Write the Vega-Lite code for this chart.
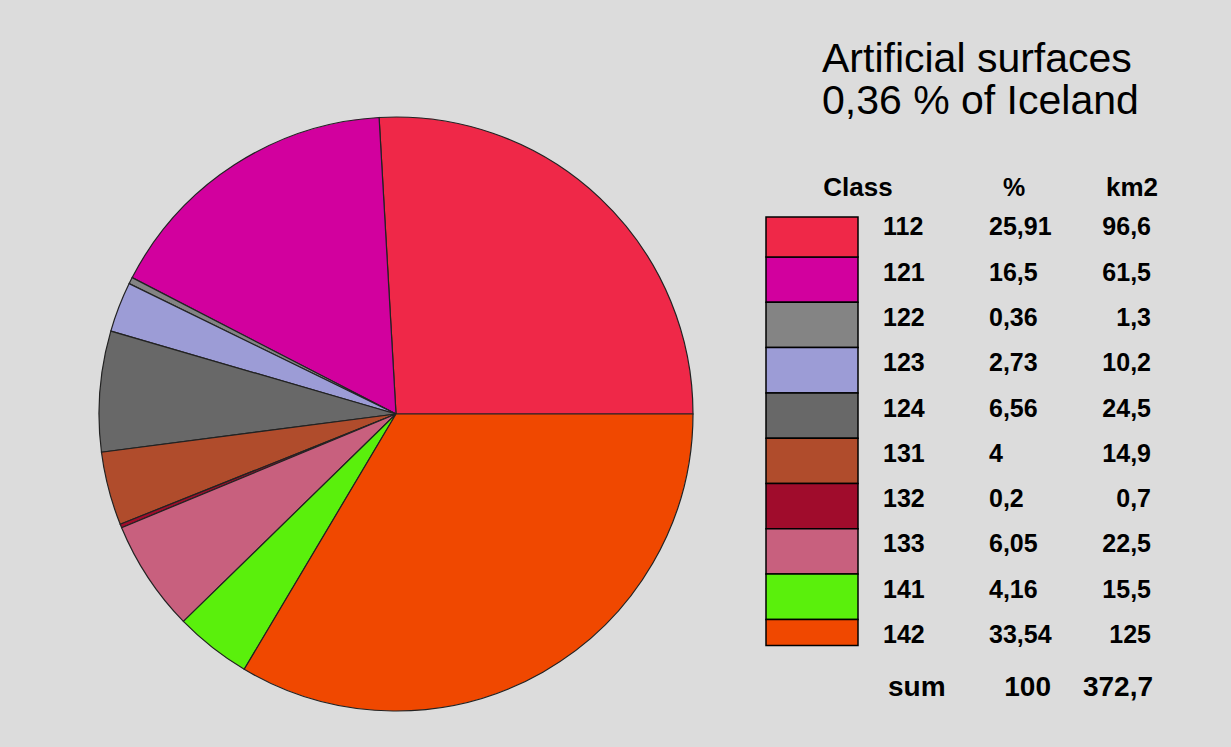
{
  "$schema": "https://vega.github.io/schema/vega-lite/v6.json",
  "background": "#dcdcdc",
  "padding": {"left": 96, "top": 39, "right": 81, "bottom": 41},
  "bounds": "flush",
  "spacing": 73,
  "config": {"view": {"stroke": null}, "font": "Liberation Sans"},
  "datasets": {
    "classes": [
      {"class": "112", "pct": 25.91, "pctText": "25,91", "km2": 96.6, "km2Text": "96,6"},
      {"class": "121", "pct": 16.5, "pctText": "16,5", "km2": 61.5, "km2Text": "61,5"},
      {"class": "122", "pct": 0.36, "pctText": "0,36", "km2": 1.3, "km2Text": "1,3"},
      {"class": "123", "pct": 2.73, "pctText": "2,73", "km2": 10.2, "km2Text": "10,2"},
      {"class": "124", "pct": 6.56, "pctText": "6,56", "km2": 24.5, "km2Text": "24,5"},
      {"class": "131", "pct": 4, "pctText": "4", "km2": 14.9, "km2Text": "14,9"},
      {"class": "132", "pct": 0.2, "pctText": "0,2", "km2": 0.7, "km2Text": "0,7"},
      {"class": "133", "pct": 6.05, "pctText": "6,05", "km2": 22.5, "km2Text": "22,5"},
      {"class": "141", "pct": 4.16, "pctText": "4,16", "km2": 15.5, "km2Text": "15,5"},
      {"class": "142", "pct": 33.54, "pctText": "33,54", "km2": 125, "km2Text": "125"}
    ]
  },
  "hconcat": [
    {
      "width": 594,
      "height": 594,
      "data": {"name": "classes"},
      "mark": {"type": "arc", "outerRadius": 297, "stroke": "#222222", "strokeWidth": 1.2},
      "encoding": {
        "theta": {"field": "pct", "type": "quantitative", "stack": true, "scale": {"range": [1.5708, 7.854]}},
        "order": {"field": "class", "type": "ordinal", "sort": "descending"},
        "color": {
          "field": "class", "type": "nominal", "legend": null,
          "scale": {
            "domain": ["112", "121", "122", "123", "124", "131", "132", "133", "141", "142"],
            "range": ["#ef2848", "#d2009e", "#848484", "#9c9cd6", "#686868", "#b04c2c", "#a00c2c", "#c8607e", "#5af00c", "#f04800"]
          }
        }
      }
    },
    {
      "width": 368,
      "height": 594,
      "title": {
        "text": ["Artificial surfaces", "0,36 % of Iceland"],
        "anchor": "start", "frame": "group", "dx": 56, "offset": -6,
        "fontSize": 41, "fontWeight": "normal", "font": "Liberation Sans", "color": "#000000", "lineHeight": 42
      },
      "data": {"name": "classes"},
      "encoding": {
        "y": {
          "field": "class", "type": "nominal", "axis": null,
          "scale": {"type": "band", "domain": ["header", "112", "121", "122", "123", "124", "131", "132", "133", "141", "142", "sum"], "paddingInner": 0, "paddingOuter": 0.556, "align": 0.98}
        }
      },
      "layer": [
        {
          "transform": [{"filter": "datum.class != '112' && datum.class != '142'"}],
          "mark": {"type": "rect", "stroke": "#000000", "strokeWidth": 1.5},
          "encoding": {
            "x": {"datum": "sw", "type": "nominal", "axis": null, "scale": {"type": "band", "domain": ["sw", "class", "pct", "km2"], "paddingInner": 0, "paddingOuter": 0}},
            "color": {"field": "class", "type": "nominal", "legend": null,
              "scale": {
                "domain": ["112", "121", "122", "123", "124", "131", "132", "133", "141", "142"],
                "range": ["#ef2848", "#d2009e", "#848484", "#9c9cd6", "#686868", "#b04c2c", "#a00c2c", "#c8607e", "#5af00c", "#f04800"]
              }}
          }
        },
        {
          "transform": [{"filter": "datum.class == '112'"}],
          "mark": {"type": "rect", "stroke": "#000000", "strokeWidth": 1.5},
          "encoding": {
            "x": {"datum": "sw", "type": "nominal"},
            "y": {"field": "class", "type": "nominal", "bandPosition": 0.117},
            "y2": {"field": "class", "bandPosition": 1},
            "color": {"field": "class", "type": "nominal", "legend": null}
          }
        },
        {
          "transform": [{"filter": "datum.class == '142'"}],
          "mark": {"type": "rect", "stroke": "#000000", "strokeWidth": 1.5},
          "encoding": {
            "x": {"datum": "sw", "type": "nominal"},
            "y": {"field": "class", "type": "nominal", "bandPosition": 0},
            "y2": {"field": "class", "bandPosition": 0.574},
            "color": {"field": "class", "type": "nominal", "legend": null}
          }
        },
        {
          "mark": {"type": "text", "align": "left", "baseline": "middle", "dx": 25, "dy": -7, "fontSize": 25, "fontWeight": "bold", "color": "#000000"},
          "encoding": {
            "x": {"datum": "class", "type": "nominal", "bandPosition": 0},
            "text": {"field": "class"}
          }
        },
        {
          "mark": {"type": "text", "align": "left", "baseline": "middle", "dx": 39, "dy": -7, "fontSize": 25, "fontWeight": "bold", "color": "#000000"},
          "encoding": {
            "x": {"datum": "pct", "type": "nominal", "bandPosition": 0},
            "text": {"field": "pctText"}
          }
        },
        {
          "mark": {"type": "text", "align": "right", "baseline": "middle", "dx": 17, "dy": -7, "fontSize": 25, "fontWeight": "bold", "color": "#000000"},
          "encoding": {
            "x": {"datum": "km2", "type": "nominal", "bandPosition": 1},
            "text": {"field": "km2Text"}
          }
        },
        {
          "data": {"values": [{"label": "Class"}]},
          "mark": {"type": "text", "align": "center", "baseline": "middle", "dy": -1.5, "fontSize": 26, "fontWeight": "bold", "color": "#000000"},
          "encoding": {
            "x": {"datum": "class", "type": "nominal", "bandPosition": 0},
            "y": {"datum": "header", "type": "nominal"},
            "text": {"field": "label"}
          }
        },
        {
          "data": {"values": [{"label": "%"}]},
          "mark": {"type": "text", "align": "center", "baseline": "middle", "dx": 64, "dy": -1.5, "fontSize": 25, "fontWeight": "bold", "color": "#000000"},
          "encoding": {
            "x": {"datum": "pct", "type": "nominal", "bandPosition": 0},
            "y": {"datum": "header", "type": "nominal"},
            "text": {"field": "label"}
          }
        },
        {
          "data": {"values": [{"label": "km2"}]},
          "mark": {"type": "text", "align": "right", "baseline": "middle", "dx": 24, "dy": -1.5, "fontSize": 26, "fontWeight": "bold", "color": "#000000"},
          "encoding": {
            "x": {"datum": "km2", "type": "nominal", "bandPosition": 1},
            "y": {"datum": "header", "type": "nominal"},
            "text": {"field": "label"}
          }
        },
        {
          "data": {"values": [{"label": "sum", "pctTotal": "100", "km2Total": "372,7"}]},
          "layer": [
            {
              "mark": {"type": "text", "align": "left", "baseline": "middle", "dx": 30, "dy": 1, "fontSize": 28, "fontWeight": "bold", "color": "#000000"},
              "encoding": {
                "x": {"datum": "class", "type": "nominal", "bandPosition": 0},
                "y": {"datum": "sum", "type": "nominal"},
                "text": {"field": "label"}
              }
            },
            {
              "mark": {"type": "text", "align": "right", "baseline": "middle", "dx": 9, "dy": 1, "fontSize": 28, "fontWeight": "bold", "color": "#000000"},
              "encoding": {
                "x": {"datum": "pct", "type": "nominal", "bandPosition": 1},
                "y": {"datum": "sum", "type": "nominal"},
                "text": {"field": "pctTotal"}
              }
            },
            {
              "mark": {"type": "text", "align": "right", "baseline": "middle", "dx": 19, "dy": 1, "fontSize": 28, "fontWeight": "bold", "color": "#000000"},
              "encoding": {
                "x": {"datum": "km2", "type": "nominal", "bandPosition": 1},
                "y": {"datum": "sum", "type": "nominal"},
                "text": {"field": "km2Total"}
              }
            }
          ]
        }
      ]
    }
  ]
}
